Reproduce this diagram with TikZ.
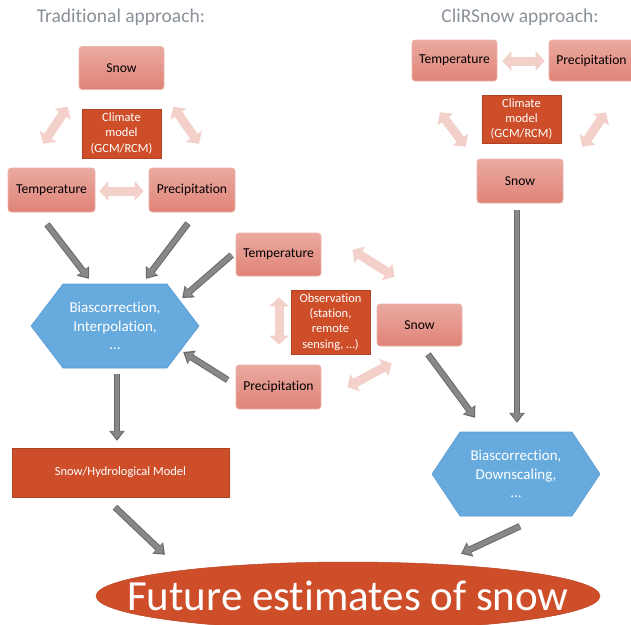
\documentclass[tikz,border=0pt]{standalone}
\usepackage{fontspec}
\setmainfont[Ligatures=NoCommon]{Carlito}
\usetikzlibrary{arrows.meta,shapes.geometric,calc}
\definecolor{boxtop}{RGB}{234,170,160}
\definecolor{boxbot}{RGB}{224,131,119}
\definecolor{boxedge}{RGB}{236,182,173}
\definecolor{darkor}{RGB}{207,78,42}
\definecolor{hexblue}{RGB}{102,170,222}
\definecolor{hexedge}{RGB}{91,155,213}
\definecolor{pinkarr}{RGB}{243,208,201}
\definecolor{grayarr}{RGB}{136,136,136}
\definecolor{grayout}{RGB}{105,105,105}
\definecolor{titlegray}{RGB}{138,144,152}
\begin{document}
\begin{tikzpicture}[x=1pt,y=-1pt,
  pinkbox/.style={rounded corners=3pt, top color=boxtop, bottom color=boxbot, draw=boxedge, line width=0.6pt,
    minimum width=85pt, minimum height=43pt, inner sep=0pt, font=\fontsize{13.6}{15}\selectfont, text=black},
  orbox/.style={fill=darkor, draw=darkor!85!black, line width=0.4pt, inner sep=0pt, text=white, align=center,
    font=\fontsize{12.5}{15.3}\selectfont},
  hexfill/.style={fill=hexblue, draw=hexedge, line width=0.6pt},
  hextext/.style={text=white, align=center, inner sep=0pt, font=\fontsize{15}{18.5}\selectfont},
  title/.style={text=titlegray, font=\fontsize{19.5}{22}\selectfont, inner sep=0pt},
  grayarrow/.style={draw=grayout, line width=6.6pt, -{Triangle[width=15pt,length=10pt]},
    postaction={draw=grayarr, line width=4.6pt, shorten >=2pt, -{Triangle[width=11.5pt,length=7.5pt]}}},
  pinkarrow/.style={draw=pinkarr, line width=9pt, {Triangle[width=19pt,length=9pt]}-{Triangle[width=19pt,length=9pt]}}
]
\useasboundingbox (0,0) rectangle (631,624);
\clip (0,0) rectangle (631,624);

% titles
\node[title] (titleL) at (121,17) {Traditional approach:};
\node[title] (titleR) at (520,17) {CliRSnow approach:};

% traditional triangle
\node[pinkbox] (snowL) at (121.5,68) {Snow};
\node[orbox, minimum width=79pt, minimum height=49pt] (climL) at (121.5,133.5) {Climate\\model\\(GCM/RCM)};
\node[pinkbox, minimum width=87pt, minimum height=44pt] (tempL) at (51.5,190) {Temperature};
\node[pinkbox, minimum width=86pt, minimum height=44pt] (precL) at (192,190) {Precipitation};

% CliRSnow triangle
\node[pinkbox, minimum height=41pt] (tempR) at (454.5,60.5) {Temperature};
\node[pinkbox, minimum height=41pt] (precR) at (591.5,60.5) {Precipitation};
\node[orbox, minimum width=79pt, minimum height=48pt] (climR) at (521.5,119) {Climate\\model\\(GCM/RCM)};
\node[pinkbox, minimum width=86pt, minimum height=44pt] (snowR) at (520,181) {Snow};

% observation triangle
\node[pinkbox] (tempM) at (278.5,254.5) {Temperature};
\node[orbox, minimum width=79pt, minimum height=64pt] (obsM) at (330.5,322) {Observation\\(station,\\remote\\sensing, …)};
\node[pinkbox, minimum height=42pt] (snowM) at (419.5,325) {Snow};
\node[pinkbox, minimum height=44pt] (precM) at (278.5,387) {Precipitation};

% hexagons
\fill[hexfill] (31,326) -- (63,284) -- (167,284) -- (199,326) -- (167,368) -- (63,368) -- cycle;
\node[hextext, minimum width=168pt, minimum height=84pt] (hexL) at (115,326) {Biascorrection,\\Interpolation,\\…};
\fill[hexfill] (432,474) -- (460,432) -- (572,432) -- (600,474) -- (572,516) -- (460,516) -- cycle;
\node[hextext, minimum width=168pt, minimum height=84pt] (hexR) at (516,474) {Biascorrection,\\Downscaling,\\…};

% model box
\node[orbox, minimum width=217pt, minimum height=49pt, font=\fontsize{12.5}{15}\selectfont] (model) at (120.5,472.5) {Snow/Hydrological Model};

% final ellipse
\node[ellipse, fill=darkor, draw=darkor!90!black, line width=0.5pt, minimum width=504pt, minimum height=68pt, inner sep=0pt] (future) at (348,596) {};
\node[text=white, inner sep=0pt, font=\fontsize{43}{48}\selectfont] (futuretext) at (future.center) {Future estimates of snow};

% pink double arrows
\draw[pinkarrow] ($(snowL.south west)+(-11,17)$) -- ($(tempL.north)+(-8.5,-24)$);
\draw[pinkarrow] ($(snowL.south east)+(9,17)$) -- ($(precL.north)+(7,-24)$);
\draw[pinkarrow] ($(tempL.east)+(4,1)$) -- ($(precL.west)+(-5,1)$);

\draw[pinkarrow] ($(tempR.east)+(5,0.5)$) -- ($(precR.west)+(-4,0.5)$);
\draw[pinkarrow] ($(tempR.south)+(-14.5,31)$) -- ($(snowR.north west)+(-11,-12)$);
\draw[pinkarrow] ($(snowR.north east)+(19,-12)$) -- ($(precR.south)+(14.5,31)$);

\draw[pinkarrow] ($(tempM.east)+(31,-4.5)$) -- ($(snowM.north west)+(18,-27)$);
\draw[pinkarrow] ($(tempM.south)+(0.5,21)$) -- ($(precM.north)+(0.5,-20)$);
\draw[pinkarrow] ($(precM.east)+(26,0)$) -- ($(snowM.south west)+(15,17)$);

% gray arrows
\draw[grayarrow] ($(tempL.south)+(-4.5,12)$) -- ($(hexL.north)+(-26,-5)$);
\draw[grayarrow] ($(precL.south)+(-4,11)$) -- ($(hexL.north)+(31,-5)$);
\draw[grayarrow] ($(tempM.west)+(-4,0.5)$) -- ($(hexL.east)+(-17,-28)$);
\draw[grayarrow] ($(precM.west)+(-8,-7)$) -- ($(hexL.east)+(-16,26)$);
\draw[grayarrow] ($(hexL.south)+(2,6)$) -- ($(model.north)+(-3.5,-7)$);
\draw[grayarrow] ($(snowM.south)+(8.5,8)$) -- ($(hexR.north)+(-41,-14)$);
\draw[grayarrow] ($(snowR.south)+(-3,7)$) -- ($(hexR.north)+(1,-9)$);
\draw[grayarrow] ($(model.south)+(-5.5,10)$) -- ($(future.north)+(-183,-7)$);
\draw[grayarrow] ($(hexR.south)+(4,10)$) -- ($(future.north)+(113,-8)$);
\end{tikzpicture}
\end{document}
